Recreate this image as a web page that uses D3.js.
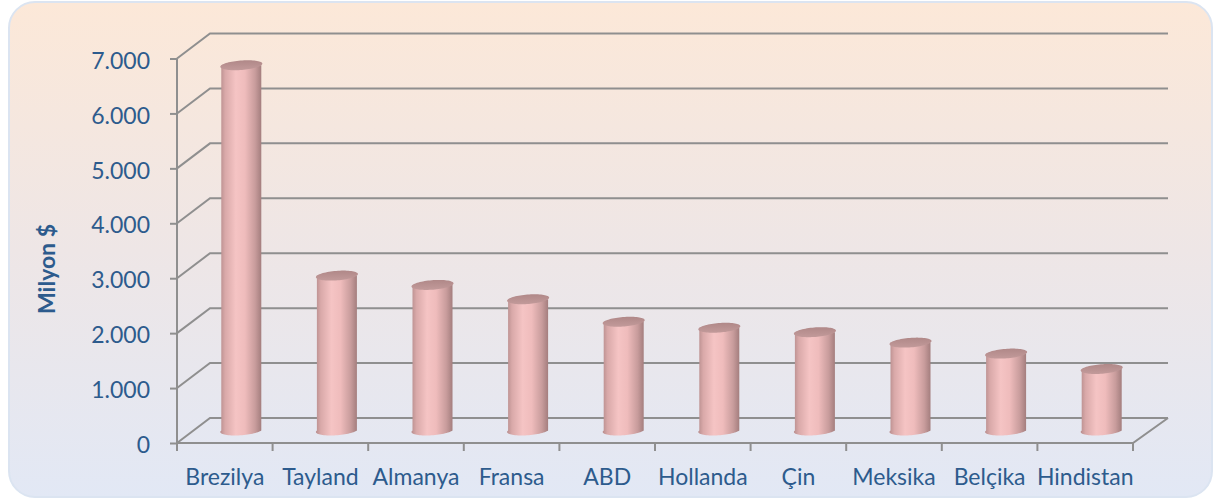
<!DOCTYPE html>
<html>
<head>
<meta charset="utf-8">
<script src="https://cdn.jsdelivr.net/npm/d3@7"></script>
<style>
  html, body { margin: 0; padding: 0; background: #fff; }
  svg { display: block; }
</style>
</head>
<body>
<div id="field"></div>
<script>
'use strict';

// veriler
const categories = ['Brezilya', 'Tayland', 'Almanya', 'Fransa', 'ABD', 'Hollanda', 'Çin', 'Meksika', 'Belçika', 'Hindistan'];
const values = [6650, 2820, 2650, 2390, 1980, 1870, 1790, 1600, 1400, 1120];
const yTicks = [0, 1000, 2000, 3000, 4000, 5000, 6000, 7000];
const yTitle = 'Milyon $';

const w = 1223, h = 501;
const depthX = 33, depthY = -25;   // 3B derinlik kayması
const textColor = '#2d5b8d';
const gridColor = '#8f8f8f';
const fontFam = 'Lato, "Open Sans", sans-serif';

const svg = d3.select('#field').append('svg').attr('width', w).attr('height', h);
const defs = svg.append('defs');

// arka plan gradyanı
const bg = defs.append('linearGradient').attr('id', 'bg').attr('x1', 0).attr('y1', 0).attr('x2', 0).attr('y2', 1);
bg.append('stop').attr('offset', '0%').attr('stop-color', '#fce8d8');
bg.append('stop').attr('offset', '50%').attr('stop-color', '#eee6e6');
bg.append('stop').attr('offset', '100%').attr('stop-color', '#e2e8f5');

// silindir gövde gradyanı
const bodyGrad = defs.append('linearGradient').attr('id', 'cyl').attr('x1', 0).attr('y1', 0).attr('x2', 1).attr('y2', 0);
[['0%', '#b88e8e'], ['12%', '#d9a9a9'], ['38%', '#f5c4c4'], ['60%', '#efbcbc'], ['85%', '#c89c9c'], ['100%', '#a47e7e']]
  .forEach(function(s) { bodyGrad.append('stop').attr('offset', s[0]).attr('stop-color', s[1]); });

const topGrad = defs.append('linearGradient').attr('id', 'cyltop').attr('x1', 0).attr('y1', 0).attr('x2', 0).attr('y2', 1);
topGrad.append('stop').attr('offset', '0%').attr('stop-color', '#b08888');
topGrad.append('stop').attr('offset', '100%').attr('stop-color', '#c29a9a');

svg.append('rect')
  .attr('x', 9).attr('y', 2).attr('width', w - 20).attr('height', h - 6)
  .attr('rx', 26).attr('ry', 26)
  .attr('fill', 'url(#bg)')
  .attr('stroke', '#dbe4f1').attr('stroke-width', 2);

// ölçekler
const xScale = d3.scaleBand().domain(categories).range([177, 1133]).paddingInner(0).paddingOuter(0);
const yScale = d3.scaleLinear().domain([0, 7000]).range([443, 58.5]);

const locale = d3.formatLocale({ decimal: ',', thousands: '.', grouping: [3], currency: ['', ''] });
const fmt = locale.format(',');

// ızgara çizgileri (arka duvar + sol kenar)
const grid = svg.append('g').attr('fill', 'none').attr('stroke', gridColor).attr('stroke-width', 2);
grid.selectAll('path.g').data(yTicks).enter().append('path')
  .attr('class', 'g')
  .attr('d', function(d) {
    const y = yScale(d);
    return 'M177,' + y + 'L' + (177 + depthX) + ',' + (y + depthY) + 'L1168,' + (y + depthY);
  });

// taban
grid.append('path')
  .attr('d', 'M177,' + yScale(0) + 'L1133,' + yScale(0) + 'L' + (1133 + depthX + 2) + ',' + (yScale(0) + depthY));

// y ekseni
const yAxis = d3.axisLeft(yScale).tickValues(yTicks).tickSize(7).tickFormat(fmt);
const gy = svg.append('g').attr('transform', 'translate(177,0)').call(yAxis);
gy.select('.domain').attr('stroke', gridColor).attr('stroke-width', 2).attr('d', 'M0,' + yScale(7000) + 'V' + yScale(0));
gy.selectAll('.tick line').attr('stroke', gridColor).attr('stroke-width', 2);
gy.selectAll('.tick text')
  .attr('x', -27).attr('dy', '0.42em')
  .attr('fill', textColor)
  .attr('font-family', fontFam)
  .attr('font-size', '23px');

// x ekseni
const xAxis = d3.axisBottom(xScale).tickSize(0).tickSizeOuter(0);
const gx = svg.append('g').attr('transform', 'translate(0,' + yScale(0) + ')').call(xAxis);
gx.select('.domain').remove();
gx.selectAll('.tick text')
  .attr('y', 42)
  .attr('dy', 0)
  .attr('fill', textColor)
  .attr('font-family', fontFam)
  .attr('font-size', '23px');

// x çentikleri
const bounds = categories.map(function(c) { return xScale(c); }).concat([xScale.range()[1]]);
svg.append('g').selectAll('line').data(bounds).enter().append('line')
  .attr('x1', function(d) { return d; }).attr('x2', function(d) { return d; })
  .attr('y1', yScale(0)).attr('y2', yScale(0) + 8)
  .attr('stroke', gridColor).attr('stroke-width', 2);

// eksen başlığı
svg.append('text')
  .attr('transform', 'translate(55,' + 269 + ') rotate(-90)')
  .attr('text-anchor', 'middle')
  .attr('fill', textColor)
  .attr('font-family', fontFam)
  .attr('font-weight', 'bold')
  .attr('font-size', '23px')
  .text(yTitle);

// silindirler
const r = 20, ax = 6.5, ay = -5;
function ellipsePt(cx, cy, t) {
  const z = Math.sin(t);
  return [cx + r * Math.cos(t) + z * ax, cy + z * ay];
}
function topPath(cx, cy) {
  const pts = d3.range(0, 2 * Math.PI, Math.PI / 36).map(function(t) { return ellipsePt(cx, cy, t); });
  return d3.line()(pts) + 'Z';
}
function bodyPath(cx, cyTop, cyBot) {
  const front = d3.range(Math.PI, 2 * Math.PI + 0.001, Math.PI / 36).map(function(t) { return ellipsePt(cx, cyBot, t); });
  const pts = [ellipsePt(cx, cyTop, Math.PI)].concat(front).concat([ellipsePt(cx, cyTop, 2 * Math.PI)]);
  return d3.line()(pts) + 'Z';
}

const cyl = svg.append('g').selectAll('g').data(values).enter().append('g');
function cx(d, i) { return xScale(categories[i]) + xScale.bandwidth() / 2 + depthX / 2; }
function cyv(v) { return yScale(v) + depthY / 2; }

cyl.append('path')
  .attr('d', function(d, i) { return bodyPath(cx(d, i), cyv(d), cyv(0)); })
  .attr('fill', 'url(#cyl)');
cyl.append('path')
  .attr('d', function(d, i) { return topPath(cx(d, i), cyv(d)); })
  .attr('fill', 'url(#cyltop)');
</script>
</body>
</html>
